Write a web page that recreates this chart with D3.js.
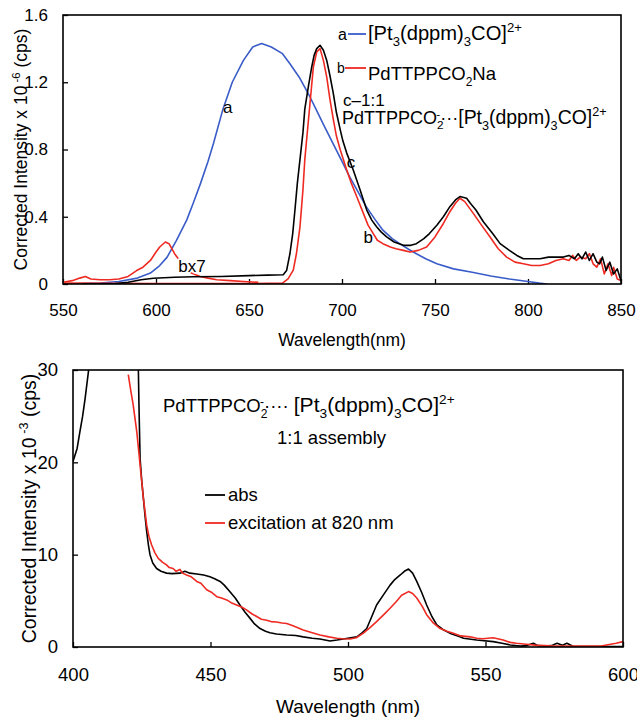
<!DOCTYPE html>
<html>
<head>
<meta charset="utf-8">
<script src="https://cdn.jsdelivr.net/npm/d3@7/dist/d3.min.js"></script>
<style>
  body { margin: 0; background: #fff; }
  svg { display: block; font-family: "Liberation Sans", Arial, Helvetica, sans-serif; }
  .frame { fill: none; stroke: #000; stroke-width: 1.6; }
  .curve { fill: none; stroke-width: 1.6; stroke-linejoin: round; }
  .tick line { stroke: #000; stroke-width: 1.3; }
  .tick text { fill: #000; }
  .domain { display: none; }
</style>
</head>
<body>
<svg id="chart" width="637" height="719"></svg>
<script>
// top panel: emission spectra (wavelength nm, intensity x 1e-6 cps)
const topXTicks = [550, 600, 650, 700, 750, 800, 850]
const topYTicks = [0, 0.4, 0.8, 1.2, 1.6]

const curveA = [[550, 0], [560, 0.002], [570, 0.005], [580, 0.015], [590, 0.035], [597, 0.065],
  [602, 0.11], [606, 0.16], [611, 0.26], [616.5, 0.38], [620, 0.48], [624, 0.6], [628, 0.73],
  [631, 0.84], [636, 1.04], [641, 1.2], [647, 1.33], [652, 1.41], [656.8, 1.43], [662, 1.41],
  [668, 1.37], [672, 1.31], [677, 1.23], [682, 1.13], [686, 1.04], [690, 0.95], [695, 0.84],
  [700, 0.73], [704, 0.64], [709, 0.54], [713, 0.46], [718, 0.38], [722, 0.32], [727, 0.27],
  [731, 0.24], [736, 0.205], [740, 0.18], [745, 0.15], [751, 0.12], [760, 0.09], [770, 0.07],
  [780, 0.048], [790, 0.03], [800, 0.015], [806, 0.005], [810, 0]]

const curveB = [[550, 0.005], [600, 0.003], [650, 0.003], [668, 0.005], [671, 0.03], [673.8, 0.083],
  [675.5, 0.18], [677.4, 0.34], [679, 0.56], [680, 0.74], [681.5, 0.92], [682.8, 1.075], [684.6, 1.29],
  [686.4, 1.38], [688.2, 1.40], [690, 1.33], [691.8, 1.23], [693.5, 1.10], [695.3, 0.98], [697, 0.88],
  [699, 0.80], [702.5, 0.68], [705, 0.6], [707.9, 0.52], [711.5, 0.42], [714, 0.35], [716.8, 0.30],
  [719, 0.26], [722, 0.24], [726, 0.22], [729, 0.21], [733, 0.2], [736.6, 0.19], [741, 0.2],
  [745.5, 0.22], [750, 0.28], [754.5, 0.36], [758, 0.43], [761, 0.48], [763.4, 0.51], [766, 0.49],
  [770.6, 0.42], [775, 0.35], [779.6, 0.28], [784, 0.21], [788.5, 0.16], [793, 0.13], [797.5, 0.12],
  [802, 0.11], [806.5, 0.11], [811, 0.12], [815, 0.14], [819, 0.15], [822, 0.14], [824, 0.17],
  [826, 0.14], [828, 0.16], [831, 0.15], [833, 0.18], [835, 0.12], [837, 0.10], [839, 0.15],
  [841, 0.06], [843, 0.12], [845, 0.05], [846, 0.10], [848, 0.03], [850, 0.02]]

const curveBx7 = [[550, 0.01], [555, 0.02], [559, 0.035], [562, 0.045], [565, 0.03], [570, 0.025],
  [575, 0.025], [580, 0.03], [585, 0.045], [589.6, 0.08], [593, 0.1], [597, 0.14], [600, 0.19],
  [602, 0.22], [605, 0.25], [607, 0.24], [610, 0.18], [612, 0.15], [615, 0.11], [619, 0.065],
  [623.7, 0.045], [628, 0.035], [632.6, 0.025], [640, 0.02], [647, 0.015], [655, 0.01]]

const curveC = [[560, 0], [578, 0.003], [585, 0.01], [592, 0.025], [598.6, 0.034], [610, 0.04],
  [620, 0.043], [635, 0.045], [650, 0.05], [660, 0.053], [668.4, 0.055], [670.2, 0.08], [672, 0.18],
  [673.5, 0.3], [674.7, 0.44], [676, 0.6], [677.4, 0.74], [679, 0.9], [680, 1.04], [682, 1.18],
  [683.7, 1.29], [685, 1.36], [686.4, 1.40], [688.2, 1.42], [690, 1.39], [691.8, 1.33], [693.5, 1.24],
  [695.3, 1.135], [697, 1.02], [699, 0.92], [700.5, 0.85], [702.5, 0.78], [706, 0.68], [709.7, 0.56],
  [713.3, 0.44], [716, 0.38], [718.6, 0.34], [721, 0.31], [724, 0.28], [728, 0.25], [733, 0.23],
  [737, 0.23], [740, 0.24], [744, 0.27], [747, 0.30], [751, 0.35], [754.5, 0.40], [758, 0.46],
  [761, 0.5], [763.4, 0.52], [767, 0.51], [769, 0.48], [772, 0.44], [776, 0.37], [781, 0.30],
  [785, 0.24], [790, 0.20], [794, 0.17], [797.5, 0.15], [802, 0.15], [806.5, 0.15], [811, 0.16],
  [815, 0.16], [819, 0.16], [822, 0.17], [825, 0.15], [827, 0.18], [829, 0.15], [831, 0.19],
  [833, 0.14], [835, 0.18], [837, 0.13], [838.5, 0.12], [840, 0.16], [842, 0.08], [844, 0.13],
  [846, 0.06], [848, 0.09], [850, 0.02]]

// bottom panel: absorption vs excitation (intensity x 1e-3 cps)
const botXTicks = [400, 450, 500, 550, 600]
const botYTicks = [0, 10, 20, 30]

const curveAbs = [[400, 20.1], [401.5, 21.5], [402.5, 23.3], [403.5, 25], [404.4, 26.9], [405.6, 29.8],
  [406.5, 33], [423.6, 33], [424, 26], [424.4, 20.4], [425, 18], [425.6, 16.1], [426.2, 14.2],
  [426.8, 12.5], [427.4, 11.1], [428, 10.0], [429, 9.1], [430.4, 8.5], [432, 8.2], [434, 8.0],
  [436, 7.95], [438.9, 8.0], [440.7, 8.2], [442.5, 8.0], [445, 7.9], [447.5, 7.8], [449.8, 7.6],
  [451.5, 7.4], [453.5, 7.1], [455, 6.7], [457, 6.0], [459, 5.3], [460.7, 4.55], [462.5, 3.8],
  [464.4, 3.1], [466, 2.5], [468, 2.0], [470, 1.7], [471.6, 1.55], [474, 1.4], [477.7, 1.3],
  [481, 1.25], [483.7, 1.1], [487, 0.95], [489.8, 0.87], [493.5, 0.65], [496, 0.75], [498.3, 0.87],
  [501, 1.0], [503.2, 1.1], [505, 1.5], [506.8, 2.0], [508.5, 3.2], [510.4, 4.55], [513, 5.7],
  [515.3, 6.7], [517, 7.3], [519, 7.8], [520.5, 8.2], [522, 8.45], [523.5, 8.0], [525, 7.1],
  [526.8, 5.9], [528.6, 4.55], [530.5, 3.3], [532.3, 2.4], [534.5, 1.9], [537, 1.5], [540.7, 1.1],
  [542, 0.94], [546.8, 0.76], [552.8, 0.58], [556, 0.4], [559, 0.22], [562.6, 0.1], [565, 0.15],
  [567.4, 0.4], [569, 0.15], [571, 0.1], [574, 0.15], [576, 0.4], [578, 0.2], [579.6, 0.4],
  [582, 0.05], [590, 0.05], [600, 0.05]]

const curveExc = [[420.1, 29.5], [421, 27.8], [421.9, 26.2], [423.2, 23.3], [424.4, 19.7], [425.6, 16.1],
  [426.8, 13.2], [427.6, 12], [428.6, 11.05], [429.8, 10.2], [431, 9.6], [432.5, 9.2], [434, 8.9],
  [435, 8.6], [436.4, 8.5], [437.5, 8.2], [438.9, 8.4], [439.8, 8.0], [441.3, 7.8], [443, 7.6],
  [445, 7.1], [446.5, 6.9], [448.6, 6.2], [450.5, 5.9], [452.3, 5.45], [454, 5.3], [455.9, 5.1],
  [457.5, 4.8], [459.5, 4.55], [461.5, 4.3], [463.2, 4.0], [465, 3.6], [466.8, 3.3], [468.5, 3.0],
  [470.4, 2.9], [472, 2.75], [474, 2.7], [476, 2.6], [477.7, 2.55], [480, 2.3], [483.7, 1.85],
  [487, 1.55], [489.8, 1.3], [493, 1.1], [495.9, 0.94], [498, 0.9], [500.7, 0.87], [503, 1.0],
  [505.6, 1.5], [508, 2.1], [510.4, 2.75], [513, 3.5], [515.3, 4.2], [517.5, 4.9], [519.5, 5.6],
  [522, 6.0], [523.5, 5.8], [525, 5.3], [527, 4.4], [528.6, 3.5], [531, 2.6], [533.5, 2.0],
  [536, 1.7], [538.3, 1.5], [541, 1.2], [544.4, 1.1], [546.8, 0.94], [549, 0.9], [552.8, 1.0],
  [556.4, 0.76], [559, 0.5], [561.2, 0.4], [564.8, 0.3], [568, 0.2], [575, 0.1], [585, 0.1],
  [592, 0.1], [597.5, 0.4], [600, 0.58]]

const BLUE = '#3a5cc8'
const RED = '#ee2a22'

const svg = d3.select('#chart')

// writes text made of [string, kind, scale] parts, kind: n / sub / sup / supOver
function richText (g, x, y, parts, size) {
  let t = g.append('text').attr('x', x).attr('y', y).style('font-size', size + 'px')
  let shift = 0
  for (let p of parts) {
    let base = size * (p[2] || 1)
    let s = t.append('tspan').text(p[0])
    let target = 0
    if (p[1] === 'sub') target = base * 0.3
    if (p[1] === 'sup') target = -base * 0.4
    if (p[1] === 'supOver') target = -size * 0.35
    s.style('font-size', (p[1] === 'n' ? base : base * 0.65) + 'px')
    if (p[1] === 'supOver') s.attr('dx', -size * 0.4)
    s.attr('dy', target - shift)
    shift = target
  }
  return t
}

// the platinum cluster formula, a bit larger than the rest as in the figure
function ptFormula (prefix, k) {
  return [[prefix + '[Pt', 'n', k], ['3', 'sub', k], ['(dppm)', 'n', k], ['3', 'sub', k],
    ['CO]', 'n', k], ['2+', 'sup', k]]
}

function panel (cfg) {
  let x = d3.scaleLinear().domain(cfg.xDomain).range([cfg.left, cfg.right])
  let y = d3.scaleLinear().domain(cfg.yDomain).range([cfg.bottom, cfg.top])
  let g = svg.append('g')

  g.append('clipPath').attr('id', cfg.id + 'clip')
    .append('rect')
    .attr('x', cfg.left).attr('y', cfg.top)
    .attr('width', cfg.right - cfg.left).attr('height', cfg.bottom - cfg.top)

  g.append('g')
    .attr('transform', 'translate(0,' + cfg.bottom + ')')
    .style('font-size', cfg.tickSize + 'px')
    .call(d3.axisBottom(x).tickValues(cfg.xTicks).tickSizeInner(-5).tickSizeOuter(0).tickPadding(cfg.xPad))
  g.append('g')
    .attr('transform', 'translate(' + cfg.left + ',0)')
    .style('font-size', cfg.tickSize + 'px')
    .call(d3.axisLeft(y).tickValues(cfg.yTicks).tickSizeInner(-5).tickSizeOuter(0).tickPadding(15)
      .tickFormat(cfg.yFormat))
  g.selectAll('.tick text').style('font-size', cfg.tickSize + 'px')

  let line = d3.line().x(d => x(d[0])).y(d => y(d[1]))
  let curves = g.append('g').attr('clip-path', 'url(#' + cfg.id + 'clip)')
  for (let s of cfg.series) {
    curves.append('path').attr('class', 'curve')
      .attr('d', line(s.data)).attr('stroke', s.color)
  }

  g.append('rect').attr('class', 'frame')
    .attr('x', cfg.left).attr('y', cfg.top)
    .attr('width', cfg.right - cfg.left).attr('height', cfg.bottom - cfg.top)

  g.append('text')
    .attr('x', (cfg.left + cfg.right) / 2).attr('y', cfg.bottom + cfg.titleGap)
    .attr('text-anchor', 'middle').style('font-size', cfg.titleSize + 'px')
    .text(cfg.xTitle)

  let yt = richText(g, 0, 0, cfg.yTitle, cfg.yTitleSize)
  yt.attr('text-anchor', 'middle')
    .attr('transform', 'translate(' + cfg.yTitleX + ',' + ((cfg.top + cfg.bottom) / 2) + ') rotate(-90)')
  return { g: g, x: x, y: y }
}

let topPanel = panel({
  id: 'top',
  left: 63, right: 621, top: 15, bottom: 284,
  xDomain: [550, 850], yDomain: [0, 1.6],
  xTicks: topXTicks, yTicks: topYTicks,
  yFormat: d => d === 0 ? '0' : d3.format('.1f')(d),
  tickSize: 17, xPad: 20,
  xTitle: 'Wavelength(nm)', titleSize: 17.5, titleGap: 62,
  yTitleX: 27, yTitleSize: 17.5,
  yTitle: [['Corrected Intensity x 10', 'n'], [' -6', 'sup'], [' (cps)', 'n']],
  series: [
    { data: curveA, color: BLUE },
    { data: curveBx7, color: RED },
    { data: curveB, color: RED },
    { data: curveC, color: '#000' }
  ]
})

// top legend and curve labels
let tg = topPanel.g
tg.append('text').attr('x', 338).attr('y', 40).style('font-size', '16px').text('a')
tg.append('line').attr('x1', 348).attr('x2', 366).attr('y1', 34).attr('y2', 34)
  .attr('stroke', BLUE).attr('stroke-width', 1.8)
richText(tg, 368, 40, ptFormula('', 1.12), 18)
tg.append('text').attr('x', 337).attr('y', 73).style('font-size', '14px').text('b')
tg.append('line').attr('x1', 345).attr('x2', 366).attr('y1', 68).attr('y2', 68)
  .attr('stroke', RED).attr('stroke-width', 1.8)
richText(tg, 368, 80, [['PdTTPPCO', 'n'], ['2', 'sub'], ['Na', 'n']], 18.5)
tg.append('text').attr('x', 343).attr('y', 106).style('font-size', '17px').text('c\u20131:1')
richText(tg, 342, 124, [['PdTTPPCO', 'n'], ['2', 'sub'], ['-', 'supOver'], ['\u00b7\u00b7\u00b7', 'n']]
  .concat(ptFormula('', 1.08)), 18)

tg.append('text').attr('x', topPanel.x(636)).attr('y', 113).style('font-size', '17px').text('a')
tg.append('text').attr('x', topPanel.x(702.5)).attr('y', 168).style('font-size', '17px').text('c')
tg.append('text').attr('x', topPanel.x(711.5)).attr('y', 243).style('font-size', '17px').text('b')
tg.append('text').attr('x', topPanel.x(612)).attr('y', 272).style('font-size', '17px')
  .style('paint-order', 'stroke').style('stroke', '#fff').style('stroke-width', 3).text('bx7')

let botPanel = panel({
  id: 'bot',
  left: 73, right: 623, top: 370, bottom: 647,
  xDomain: [400, 600], yDomain: [0, 30],
  xTicks: botXTicks, yTicks: botYTicks,
  yFormat: d3.format('d'),
  tickSize: 18.5, xPad: 21,
  xTitle: 'Wavelength (nm)', titleSize: 19, titleGap: 66,
  yTitleX: 36, yTitleSize: 19.5,
  yTitle: [['Corrected Intensity x 10', 'n'], [' -3', 'sup'], [' (cps)', 'n']],
  series: [
    { data: curveAbs, color: '#000' },
    { data: curveExc, color: RED }
  ]
})

let bg = botPanel.g
richText(bg, 163, 412, [['PdTTPPCO', 'n'], ['2', 'sub'], ['-', 'supOver'], ['\u00b7\u00b7\u00b7\u00b7 ', 'n']]
  .concat(ptFormula(' ', 1.14)), 18.5)
bg.append('text').attr('x', 277).attr('y', 444).style('font-size', '18.5px').text('1:1 assembly')
bg.append('line').attr('x1', 205).attr('x2', 225).attr('y1', 495).attr('y2', 495)
  .attr('stroke', '#000').attr('stroke-width', 1.8)
bg.append('text').attr('x', 228).attr('y', 501).style('font-size', '18.5px').text('abs')
bg.append('line').attr('x1', 205).attr('x2', 225).attr('y1', 523).attr('y2', 523)
  .attr('stroke', RED).attr('stroke-width', 1.8)
bg.append('text').attr('x', 228).attr('y', 529).style('font-size', '18.5px').text('excitation at 820 nm')
</script>
</body>
</html>
